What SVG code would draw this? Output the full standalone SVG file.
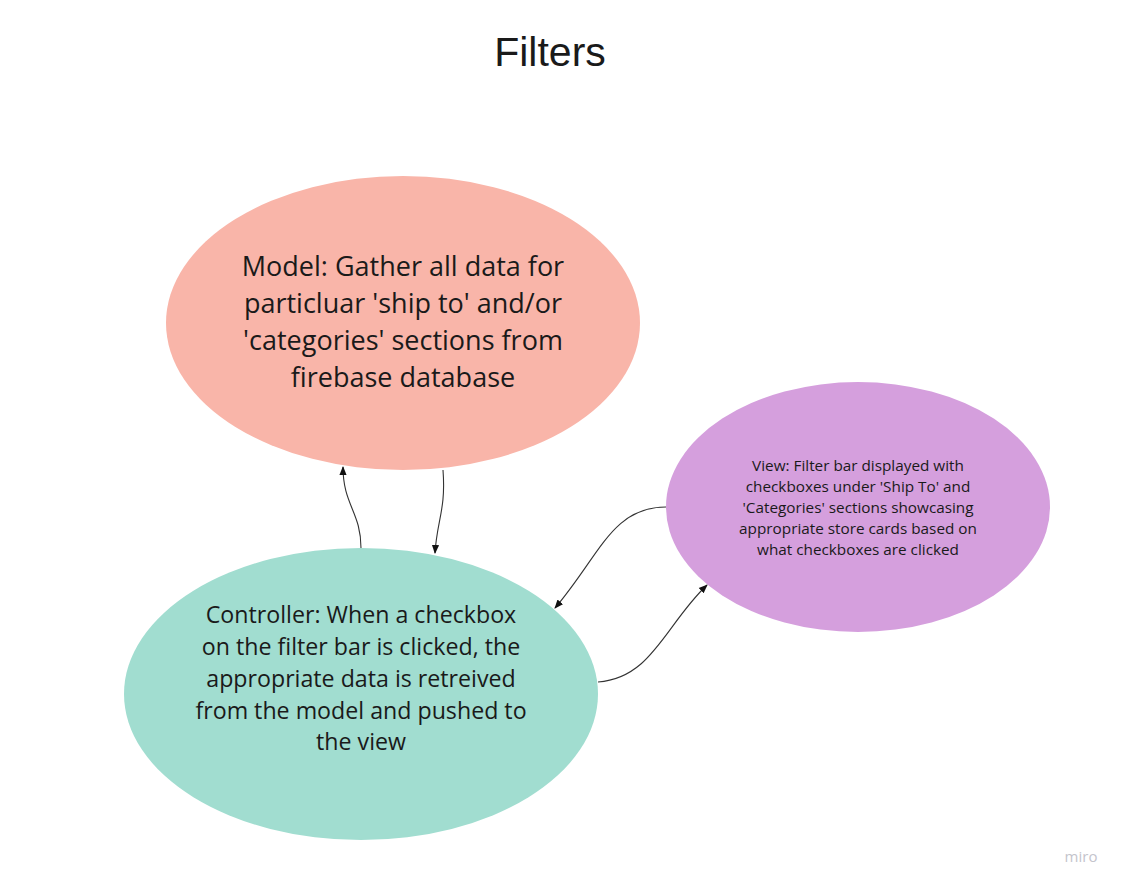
<svg xmlns="http://www.w3.org/2000/svg" width="1125" height="888" viewBox="0 0 1125 888">
<style>
.t{font-family:"Open Sans","Liberation Sans",sans-serif;fill:#1a1a1a;text-anchor:middle}
.c{fill:none;stroke:#333;stroke-width:1.1}
</style>
<defs>
<marker id="ah" viewBox="0 0 10 10" refX="9" refY="5" markerWidth="9" markerHeight="9" orient="auto" markerUnits="userSpaceOnUse"><path d="M0,1 L10,5 L0,9 z" fill="#111"/></marker>
</defs>
<rect width="1125" height="888" fill="#fff"/>
<text x="550" y="66" font-family="Liberation Sans,Arial,sans-serif" font-size="41" fill="#1a1a1a" text-anchor="middle">Filters</text>
<g id="model">
<ellipse cx="403" cy="323" rx="237" ry="147" fill="#f9b5a9"/>
<text class="t" font-size="27"><tspan x="403" y="276">Model: Gather all data for</tspan><tspan x="403" y="313">particluar 'ship to' and/or</tspan><tspan x="403" y="350">'categories' sections from</tspan><tspan x="403" y="387">firebase database</tspan></text>
</g>
<g id="controller">
<ellipse cx="361" cy="694" rx="237" ry="146" fill="#a1ddd0"/>
<text class="t" font-size="23.2"><tspan x="361" y="623">Controller: When a checkbox</tspan><tspan x="361" y="655">on the filter bar is clicked, the</tspan><tspan x="361" y="687">appropriate data is retreived</tspan><tspan x="361" y="719">from the model and pushed to</tspan><tspan x="361" y="750">the view</tspan></text>
</g>
<g id="view">
<ellipse cx="858" cy="507" rx="192" ry="125" fill="#d59fdd"/>
<text class="t" font-size="15.3"><tspan x="858" y="471">View: Filter bar displayed with</tspan><tspan x="858" y="492">checkboxes under 'Ship To' and</tspan><tspan x="858" y="513">'Categories' sections showcasing</tspan><tspan x="858" y="534">appropriate store cards based on</tspan><tspan x="858" y="555">what checkboxes are clicked</tspan></text>
</g>
<g id="connectors">
<path class="c" d="M361,548 C361,512 343,505 343,467" marker-end="url(#ah)"/>
<path class="c" d="M443,470 C446,510 437,520 435,553" marker-end="url(#ah)"/>
<path class="c" d="M666,507 C612,507 600,555 555,608" marker-end="url(#ah)"/>
<path class="c" d="M598,682 C652,678 665,625 707,585" marker-end="url(#ah)"/>
</g>
<text x="1081" y="862" font-family="Open Sans,Liberation Sans,sans-serif" font-size="15" fill="#c4c4cc" text-anchor="middle">miro</text>
</svg>
